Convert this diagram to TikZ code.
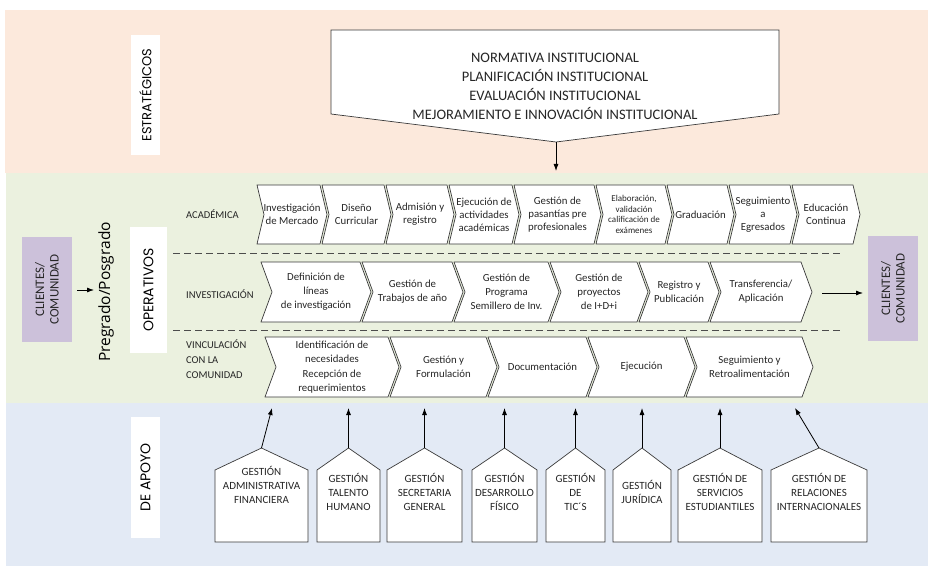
\documentclass[tikz,border=0pt]{standalone}
\usepackage{fontspec}
\setmainfont{Carlito}
\newfontfamily\geo{Poppins}
\newfontfamily\osans{Open Sans}
\usetikzlibrary{arrows.meta}
\definecolor{peach}{HTML}{FCE9DC}
\definecolor{greenband}{HTML}{EBF1DF}
\definecolor{blueband}{HTML}{E3EAF5}
\definecolor{purplebox}{HTML}{CCC1DA}
\definecolor{lineclr}{HTML}{3A3A3A}
\definecolor{txtclr}{HTML}{262626}

\newcommand{\chevbox}[8]{%
  \draw[chevline] (#2,#4) -- (#3,#4) -- ({#3+#6},{(#4+#5)/2}) -- (#3,#5) -- (#2,#5) -- ({#2+#6},{(#4+#5)/2}) -- cycle;
  \node[chevtext, font=#7] (#1) at ({(#2+#3)/2+#6/2},{(#4+#5)/2}) {#8};
}
\newcommand{\apoyobox}[5]{%
  \draw[chevline] (#2,542) -- (#2,470) -- ({(#2+#3)/2},448) -- (#3,470) -- (#3,542) -- cycle;
  \node[housetext, anchor=north] (#1) at ({(#2+#3)/2},#5) {#4};
  \coordinate (#1top) at ({(#2+#3)/2},448);
}

\begin{document}
\begin{tikzpicture}[x=1pt,y=-1pt,
  chevline/.style={draw=lineclr, line width=0.7pt, fill=white},
  chevtext/.style={align=center, inner sep=0pt, text=txtclr},
  housetext/.style={align=center, inner sep=0pt, text=txtclr, font=\fontsize{11}{14}\selectfont},
  labelbox/.style={fill=white, rotate=90, inner sep=0pt, text=black, font=\geo\fontsize{13}{15}\selectfont},
  clientbox/.style={fill=purplebox, rotate=90, inner sep=0pt, align=center, text=txtclr, font=\fontsize{13}{14.5}\selectfont, minimum width=105pt, minimum height=50pt},
  rowlabel/.style={align=left, inner sep=0pt, text=txtclr, font=\fontsize{10.5}{15}\selectfont},
  arr/.style={-{Latex[length=7pt,width=5pt]}, line width=0.8pt, draw=black},
  sep/.style={draw=black!70, line width=1pt, dash pattern=on 7pt off 4pt},
]
\useasboundingbox (0,0) rectangle (928,572);

% bands
\fill[peach] (5,10) rectangle (928,173);
\fill[greenband] (6,173) rectangle (928,403);
\fill[blueband] (6,403) rectangle (928,566);

% ---- strategic ----
\node[labelbox, minimum width=120pt, minimum height=29pt] (estr) at (145.5,95) {ESTRATÉGICOS};
\draw[chevline] (331,30) -- (779,30) -- (779,114) -- (556,142) -- (331,114) -- cycle;
\coordinate (stip) at (556,142);
\coordinate (sarr) at (556,171);
\node[chevtext, font=\fontsize{14.5}{19}\selectfont] (norm) at (555,86.5)
  {NORMATIVA INSTITUCIONAL\\PLANIFICACIÓN INSTITUCIONAL\\EVALUACIÓN INSTITUCIONAL\\MEJORAMIENTO E INNOVACIÓN INSTITUCIONAL};
\draw[arr] (stip) -- (sarr);

% ---- operative ----
\node[clientbox] (cl) at (47,289.5) {CLIENTES/\\COMUNIDAD};
\node[clientbox] (cr) at (893,288.5) {CLIENTES/\\COMUNIDAD};
\coordinate (la0) at (77,290);
\coordinate (la1) at (94,290);
\draw[arr] (la0) -- (la1);
\node[rotate=90, inner sep=0pt, text=black, font=\osans\fontsize{15.5}{17}\selectfont] (pre) at (106,292) {Pregrado/Posgrado};
\node[labelbox, minimum width=126pt, minimum height=37pt, font=\geo\fontsize{14}{16}\selectfont] (oper) at (148.5,290) {OPERATIVOS};

\node[rowlabel, anchor=west] (lacad) at (186,214) {ACADÉMICA};
\node[rowlabel, anchor=west] (linv) at (186,294) {INVESTIGACIÓN};
\node[rowlabel, anchor=north west] (lvinc) at (186,340) {VINCULACIÓN\\CON LA\\COMUNIDAD};

\coordinate (d1a) at (173,253); \coordinate (d1b) at (840,253);
\coordinate (d2a) at (173,330); \coordinate (d2b) at (840,330);
\draw[sep] (d1a) -- (d1b);
\draw[sep] (d2a) -- (d2b);

% academic row
\def\af{\fontsize{10.8}{12.8}\selectfont}
\chevbox{a1}{257}{320}{185}{244}{7}{\af}{Investigación\\de Mercado}
\chevbox{a2}{322}{384}{185}{244}{7}{\af}{Diseño\\Curricular}
\chevbox{a3}{386}{447}{185}{244}{7}{\af}{Admisión y\\registro}
\chevbox{a4}{449}{512}{185}{244}{7}{\af}{Ejecución de\\actividades\\académicas}
\chevbox{a5}{514}{594}{185}{244}{7}{\af}{Gestión de\\pasantías pre\\profesionales}
\chevbox{a6}{596}{665}{185}{244}{7}{\fontsize{9}{10.8}\selectfont}{Elaboración,\\validación\\calificación de\\exámenes}
\chevbox{a7}{667}{727}{185}{244}{7}{\af}{Graduación}
\chevbox{a8}{729}{790}{185}{244}{7}{\af}{Seguimiento\\a\\Egresados}
\chevbox{a9}{792}{853}{185}{244}{7}{\af}{Educación\\Continua}

% research row
\def\rf{\fontsize{10.8}{14}\selectfont}
\chevbox{i1}{261}{360}{262}{322}{11}{\rf}{Definición de\\líneas\\de investigación}
\chevbox{i2}{362}{452}{262}{322}{11}{\rf}{Gestión de\\Trabajos de año}
\chevbox{i3}{454}{548}{262}{322}{11}{\rf}{Gestión de\\Programa\\Semillero de Inv.}
\chevbox{i4}{550}{637}{262}{322}{11}{\rf}{Gestión de\\proyectos\\de I+D+i}
\chevbox{i5}{639}{708}{262}{322}{11}{\rf}{Registro y\\Publicación}
\chevbox{i6}{710}{801}{262}{322}{11}{\rf}{Transferencia/\\Aplicación}
\coordinate (ra0) at (822,293);
\coordinate (ra1) at (863,293);
\draw[arr] (ra0) -- (ra1);

% community row
\chevbox{v1}{265}{388}{337}{397}{11}{\fontsize{10.8}{14.5}\selectfont}{Identificación de\\necesidades\\Recepción de\\requerimientos}
\chevbox{v2}{390}{486}{337}{397}{11}{\rf}{Gestión y\\Formulación}
\chevbox{v3}{488}{586}{337}{397}{11}{\rf}{Documentación}
\chevbox{v4}{588}{684}{337}{397}{11}{\rf}{Ejecución}
\chevbox{v5}{686}{802}{337}{397}{11}{\rf}{Seguimiento y\\Retroalimentación}

% ---- support ----
\node[labelbox, minimum width=121pt, minimum height=29pt, font=\geo\fontsize{14}{16}\selectfont] (apoyo) at (145.5,477.5) {DE APOYO};

\apoyobox{h1}{215}{308}{GESTIÓN\\ADMINISTRATIVA\\FINANCIERA}{466}
\apoyobox{h2}{317}{380}{GESTIÓN\\TALENTO\\HUMANO}{473}
\apoyobox{h3}{387}{462}{GESTIÓN\\SECRETARIA\\GENERAL}{473}
\apoyobox{h4}{472}{537}{GESTIÓN\\DESARROLLO\\FÍSICO}{473}
\apoyobox{h5}{546}{605}{GESTIÓN\\DE\\TIC´S}{473}
\apoyobox{h6}{613}{671}{GESTIÓN\\JURÍDICA}{480}
\apoyobox{h7}{678}{762}{GESTIÓN DE\\SERVICIOS\\ESTUDIANTILES}{473}
\apoyobox{h8}{771}{867}{GESTIÓN DE\\RELACIONES\\INTERNACIONALES}{473}

\coordinate (t1) at (272,408);
\coordinate (t2) at (348.5,408);
\coordinate (t3) at (424.5,408);
\coordinate (t4) at (504.5,408);
\coordinate (t5) at (575.5,408);
\coordinate (t6) at (642,408);
\coordinate (t7) at (720,408);
\coordinate (t8) at (795,408);
\foreach \i in {1,...,8} { \draw[arr] (h\i top) -- (t\i); }
\end{tikzpicture}
\end{document}
